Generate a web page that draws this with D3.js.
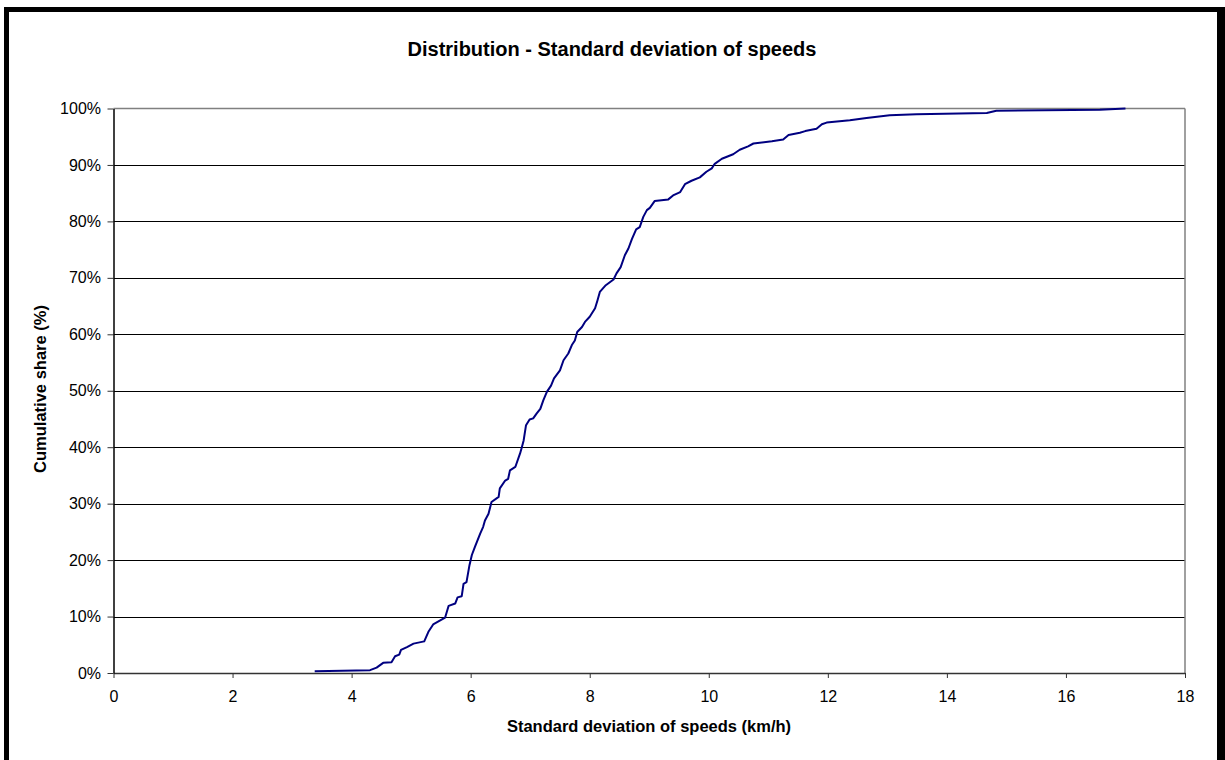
<!DOCTYPE html>
<html><head><meta charset="utf-8">
<script src="https://cdn.jsdelivr.net/npm/d3@7"></script>
<style>body{margin:0;background:#fff}svg{display:block}text{font-family:Arial,"Liberation Sans",sans-serif;fill:#000}</style>
</head><body><svg id="c" width="1225" height="760"></svg>
<script>
const speedSD = [3.38,4.31,4.42,4.53,4.67,4.73,4.80,4.83,4.93,5.04,5.22,5.29,5.37,5.57,5.63,5.74,5.78,5.85,5.88,5.93,5.98,6.02,6.07,6.16,6.21,6.24,6.30,6.35,6.47,6.49,6.58,6.63,6.66,6.75,6.83,6.86,6.89,6.93,6.99,7.05,7.11,7.17,7.22,7.28,7.35,7.40,7.50,7.56,7.64,7.70,7.75,7.79,7.87,7.92,8.00,8.09,8.13,8.17,8.27,8.40,8.45,8.52,8.59,8.65,8.71,8.78,8.84,8.90,8.96,9.01,9.09,9.32,9.40,9.52,9.60,9.71,9.85,9.96,10.05,10.10,10.22,10.41,10.52,10.66,10.75,11.06,11.25,11.34,11.53,11.62,11.81,11.90,11.98,12.37,12.65,13.04,13.49,14.67,14.83,16.57,17.0];
const cumulativeShare = [0.3,0.5,0.96,1.8,1.9,2.96,3.26,4.1,4.6,5.2,5.6,7.3,8.6,9.8,11.9,12.3,13.4,13.6,15.8,16.1,19.1,20.9,22.3,24.7,25.9,27.0,28.2,30.3,31.2,32.7,34.1,34.4,35.9,36.5,38.9,40.0,41.2,43.9,44.9,45.1,46.0,46.8,48.3,49.8,50.9,52.2,53.6,55.4,56.6,58.1,58.9,60.4,61.3,62.2,63.1,64.6,66.0,67.5,68.7,69.7,70.8,71.9,74.0,75.2,76.9,78.6,79.0,80.8,82.0,82.4,83.6,83.9,84.6,85.2,86.6,87.2,87.8,88.8,89.4,90.2,91.1,91.9,92.7,93.3,93.8,94.2,94.5,95.3,95.7,96.0,96.4,97.2,97.5,97.9,98.3,98.8,99.0,99.2,99.6,99.8,100];
const xTicks = [0,2,4,6,8,10,12,14,16,18];
const yTicks = [0,10,20,30,40,50,60,70,80,90,100];
const title = "Distribution - Standard deviation of speeds";
const xTitle = "Standard deviation of speeds (km/h)";
const yTitle = "Cumulative share (%)";

const svg = d3.select("#c");
svg.append("rect").attr("width",1225).attr("height",760).attr("fill","#fff");
// outer frame
svg.append("rect").attr("x",4).attr("y",7).attr("width",5).attr("height",760).attr("fill","#000");
svg.append("rect").attr("x",4).attr("y",7).attr("width",1221).attr("height",5).attr("fill","#000");
svg.append("rect").attr("x",1217).attr("y",7).attr("width",8).attr("height",760).attr("fill","#000");

const L=113.5, R=1185, T=108.5, B=673;
const x = d3.scaleLinear().domain([0,18]).range([L,R]);
const y = d3.scaleLinear().domain([0,100]).range([B,T]);

// gridlines
svg.append("g").selectAll("line").data(yTicks.filter(d=>d>0 && d<100)).join("line")
  .attr("x1",L).attr("x2",R).attr("y1",d=>Math.round(y(d))+0.5).attr("y2",d=>Math.round(y(d))+0.5)
  .attr("stroke","#000").attr("stroke-width",1);
// frame top/right
svg.append("line").attr("x1",L).attr("x2",R).attr("y1",T).attr("y2",T).attr("stroke","#808080").attr("stroke-width",1.5);
svg.append("line").attr("x1",R).attr("x2",R).attr("y1",T).attr("y2",B).attr("stroke","#808080").attr("stroke-width",1.5);

const xAxis = d3.axisBottom(x).tickValues(xTicks).tickSize(5).tickSizeOuter(0).tickFormat(d3.format("d"));
const gx = svg.append("g").attr("transform",`translate(0,${B})`).call(xAxis);
gx.select(".domain").attr("stroke","#333").attr("stroke-width",1.5);
gx.selectAll(".tick line").attr("stroke","#333");
gx.selectAll("text").attr("font-size",16).attr("font-family","Arial, 'Liberation Sans', sans-serif").attr("dy",0).attr("y",28.5);

const yAxis = d3.axisLeft(y).tickValues(yTicks).tickSize(6).tickSizeOuter(0).tickFormat(d=>d+"%");
const gy = svg.append("g").attr("transform",`translate(${L},0)`).call(yAxis);
gy.select(".domain").attr("stroke","#000").attr("stroke-width",1.5);
gy.selectAll(".tick line").attr("stroke","#333");
gy.selectAll("text").attr("font-size",16).attr("font-family","Arial, 'Liberation Sans', sans-serif").attr("x",-12.5);

// curve
const pts = speedSD.map((v,i)=>[v,cumulativeShare[i]]);
svg.append("path").datum(pts)
  .attr("d", d3.line().x(d=>x(d[0])).y(d=>y(d[1])))
  .attr("fill","none").attr("stroke","#000080").attr("stroke-width",2).attr("stroke-linejoin","round");

// titles
svg.append("text").attr("x",612).attr("y",56).attr("text-anchor","middle")
  .attr("font-size",20).attr("font-weight","bold").text(title);
svg.append("text").attr("x",649).attr("y",732).attr("text-anchor","middle")
  .attr("font-size",16.5).attr("font-weight","bold").text(xTitle);
svg.append("text").attr("transform","translate(46,389) rotate(-90)").attr("text-anchor","middle")
  .attr("font-size",16.5).attr("font-weight","bold").text(yTitle);
</script></body></html>
